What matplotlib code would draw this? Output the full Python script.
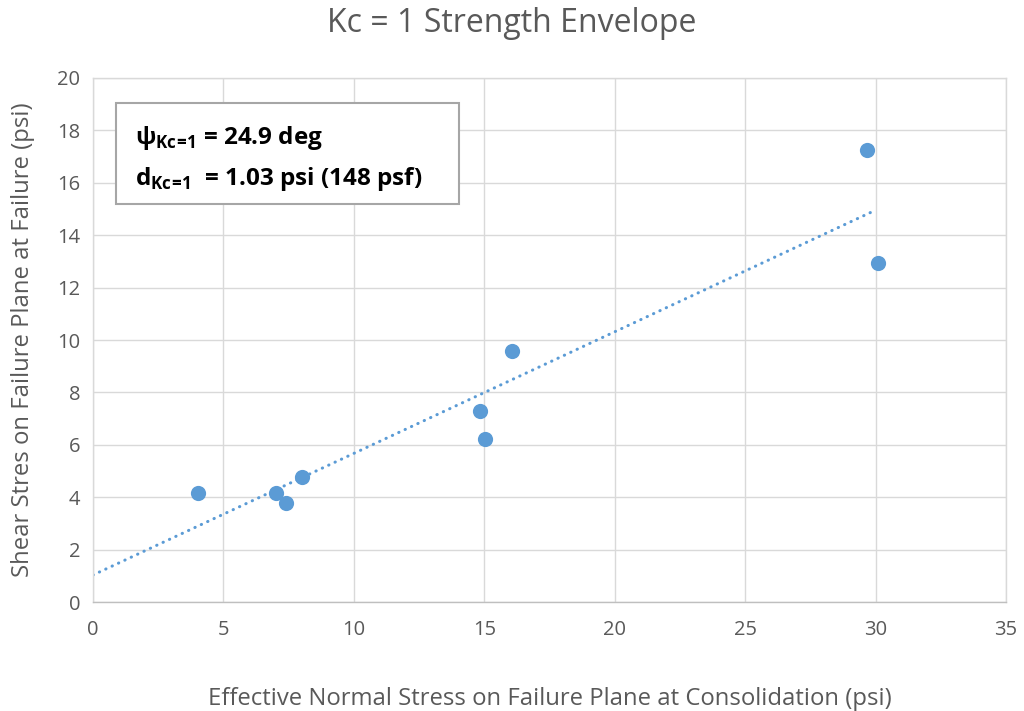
import numpy as np
import matplotlib.pyplot as plt
from matplotlib.patches import Rectangle

plt.rcParams.update(
    {
        "font.family": ["Open Sans", "DejaVu Sans"],
        "mathtext.fontset": "custom",
        "mathtext.rm": "Open Sans:bold",
        "mathtext.bf": "Open Sans:bold",
        "axes.unicode_minus": False,
    }
)

# data
normal_stress = [4.03, 7.01, 7.40, 8.01, 14.83, 15.03, 16.05, 29.68, 30.11]
shear_stress = [4.15, 4.15, 3.77, 4.78, 7.29, 6.21, 9.58, 17.25, 12.95]

psi_deg = 24.9
d_psi = 1.03
d_psf = 148
trend_x = [0, 30]

x_ticks = np.arange(0, 36, 5)
y_ticks = np.arange(0, 21, 2)

blue = "#5b9bd5"
grid_c = "#d9d9d9"
text_c = "#595959"

if __name__ == "__main__":
    fig = plt.figure(figsize=(10.24, 7.11), dpi=100)
    ax = fig.add_axes([0.0908, 0.1533, 0.8916, 0.7370])

    tx = np.array(trend_x, dtype=float)
    ty = d_psi + np.tan(np.radians(psi_deg)) * tx
    ax.plot(tx, ty, color=blue, lw=2.2, linestyle=(0, (0.1, 2.2)),
            dash_capstyle="round", zorder=2)
    ax.scatter(normal_stress, shear_stress, s=120, color=blue, zorder=3,
               linewidths=0)

    ax.set_xlim(0, 35)
    ax.set_ylim(0, 20)
    ax.set_xticks(x_ticks)
    ax.set_yticks(y_ticks)
    ax.grid(color=grid_c, lw=1.0)
    ax.set_axisbelow(True)
    for s in ax.spines.values():
        s.set_color(grid_c)
        s.set_linewidth(1.0)
    ax.spines["bottom"].set_color("#bfbfbf")
    ax.tick_params(length=0, labelsize=14.5, labelcolor=text_c)
    ax.tick_params(axis="x", pad=13)
    ax.tick_params(axis="y", pad=9)

    ax.set_xlabel("Effective Normal Stress on Failure Plane at Consolidation (psi)",
                  fontsize=17.2, color=text_c, labelpad=34)
    ax.set_ylabel("Shear Stres on Failure Plane at Failure (psi)",
                  fontsize=17.2, color=text_c, labelpad=16)
    fig.text(0.5, 0.967, "Kc = 1 Strength Envelope", ha="center", va="center",
             fontsize=23, color=text_c)

    ax.add_patch(Rectangle((0.0252, 0.7595), 0.3757, 0.1928, transform=ax.transAxes,
                           facecolor="white", edgecolor="#a6a6a6", lw=1.5, zorder=4))
    sub = "$_{\\mathrm{Kc}\\!=\\!\\mathrm{1}}$"
    ax.text(0.046, 0.885, "ψ" + sub + " = %.1f deg" % psi_deg,
            transform=ax.transAxes, fontsize=17.5, fontweight="bold",
            color="black", va="center", zorder=5)
    ax.text(0.046, 0.808, "d" + sub + "  = %.2f psi (%d psf)" % (d_psi, d_psf),
            transform=ax.transAxes, fontsize=17.5, fontweight="bold",
            color="black", va="center", zorder=5)

    fig.savefig("out.png", dpi=100)
